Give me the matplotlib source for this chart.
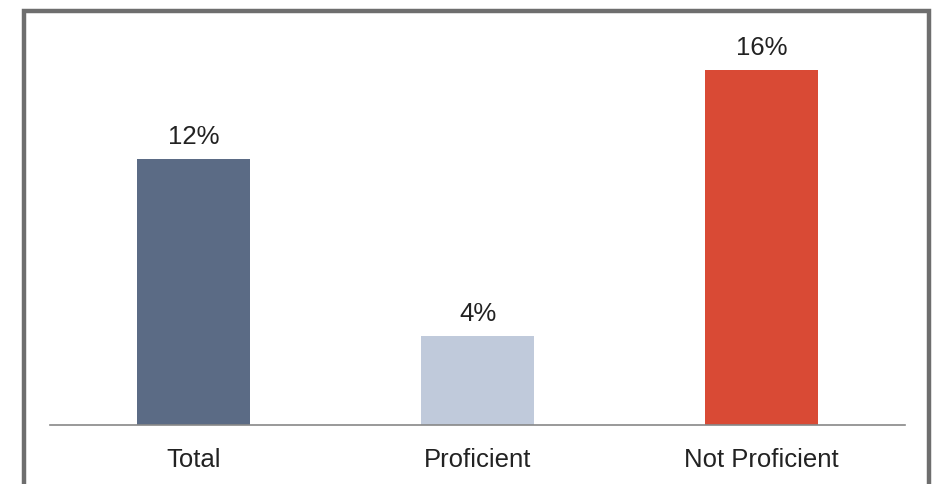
import matplotlib
matplotlib.use("Agg")
import matplotlib.pyplot as plt
from matplotlib.patches import Rectangle

categories = ["Total", "Proficient", "Not Proficient"]
values = [12, 4, 16]
labels = ["12%", "4%", "16%"]
colors = ["#5b6b85", "#c0cadb", "#d94a35"]

W, H = 940, 485
fig = plt.figure(figsize=(W / 100, H / 100), dpi=100)
plt.rcParams['font.family'] = ['Liberation Sans', 'DejaVu Sans']

ax = fig.add_axes([50 / W, 59 / H, 855 / W, 412 / H])
x = list(range(len(categories)))
ax.bar(x, values, width=0.4, color=colors, zorder=2)
ax.set_xlim(-0.505, 2.505)
ax.set_ylim(0, 412 / 22.2)
for xi, v, lab in zip(x, values, labels):
    ax.text(xi, v + 0.5, lab, ha="center", va="bottom", fontsize=18.5, color="#222222")
ax.set_xticks(x)
ax.set_xticklabels(categories, fontsize=18.5, color="#222222")
ax.tick_params(axis="x", length=0, pad=16)
ax.set_yticks([])
for s in ["top", "right", "left"]:
    ax.spines[s].set_visible(False)
ax.spines["bottom"].set_color("#888888")
ax.spines["bottom"].set_linewidth(1.2)
ax.patch.set_alpha(0)

border = Rectangle((24 / W, -0.05), (929 - 24) / W, 1.05 - 12 / H, transform=fig.transFigure,
                   fill=False, edgecolor="#6e6e6e", linewidth=3.2, clip_on=False)
fig.patches.append(border)

fig.savefig("out.png", dpi=100)
